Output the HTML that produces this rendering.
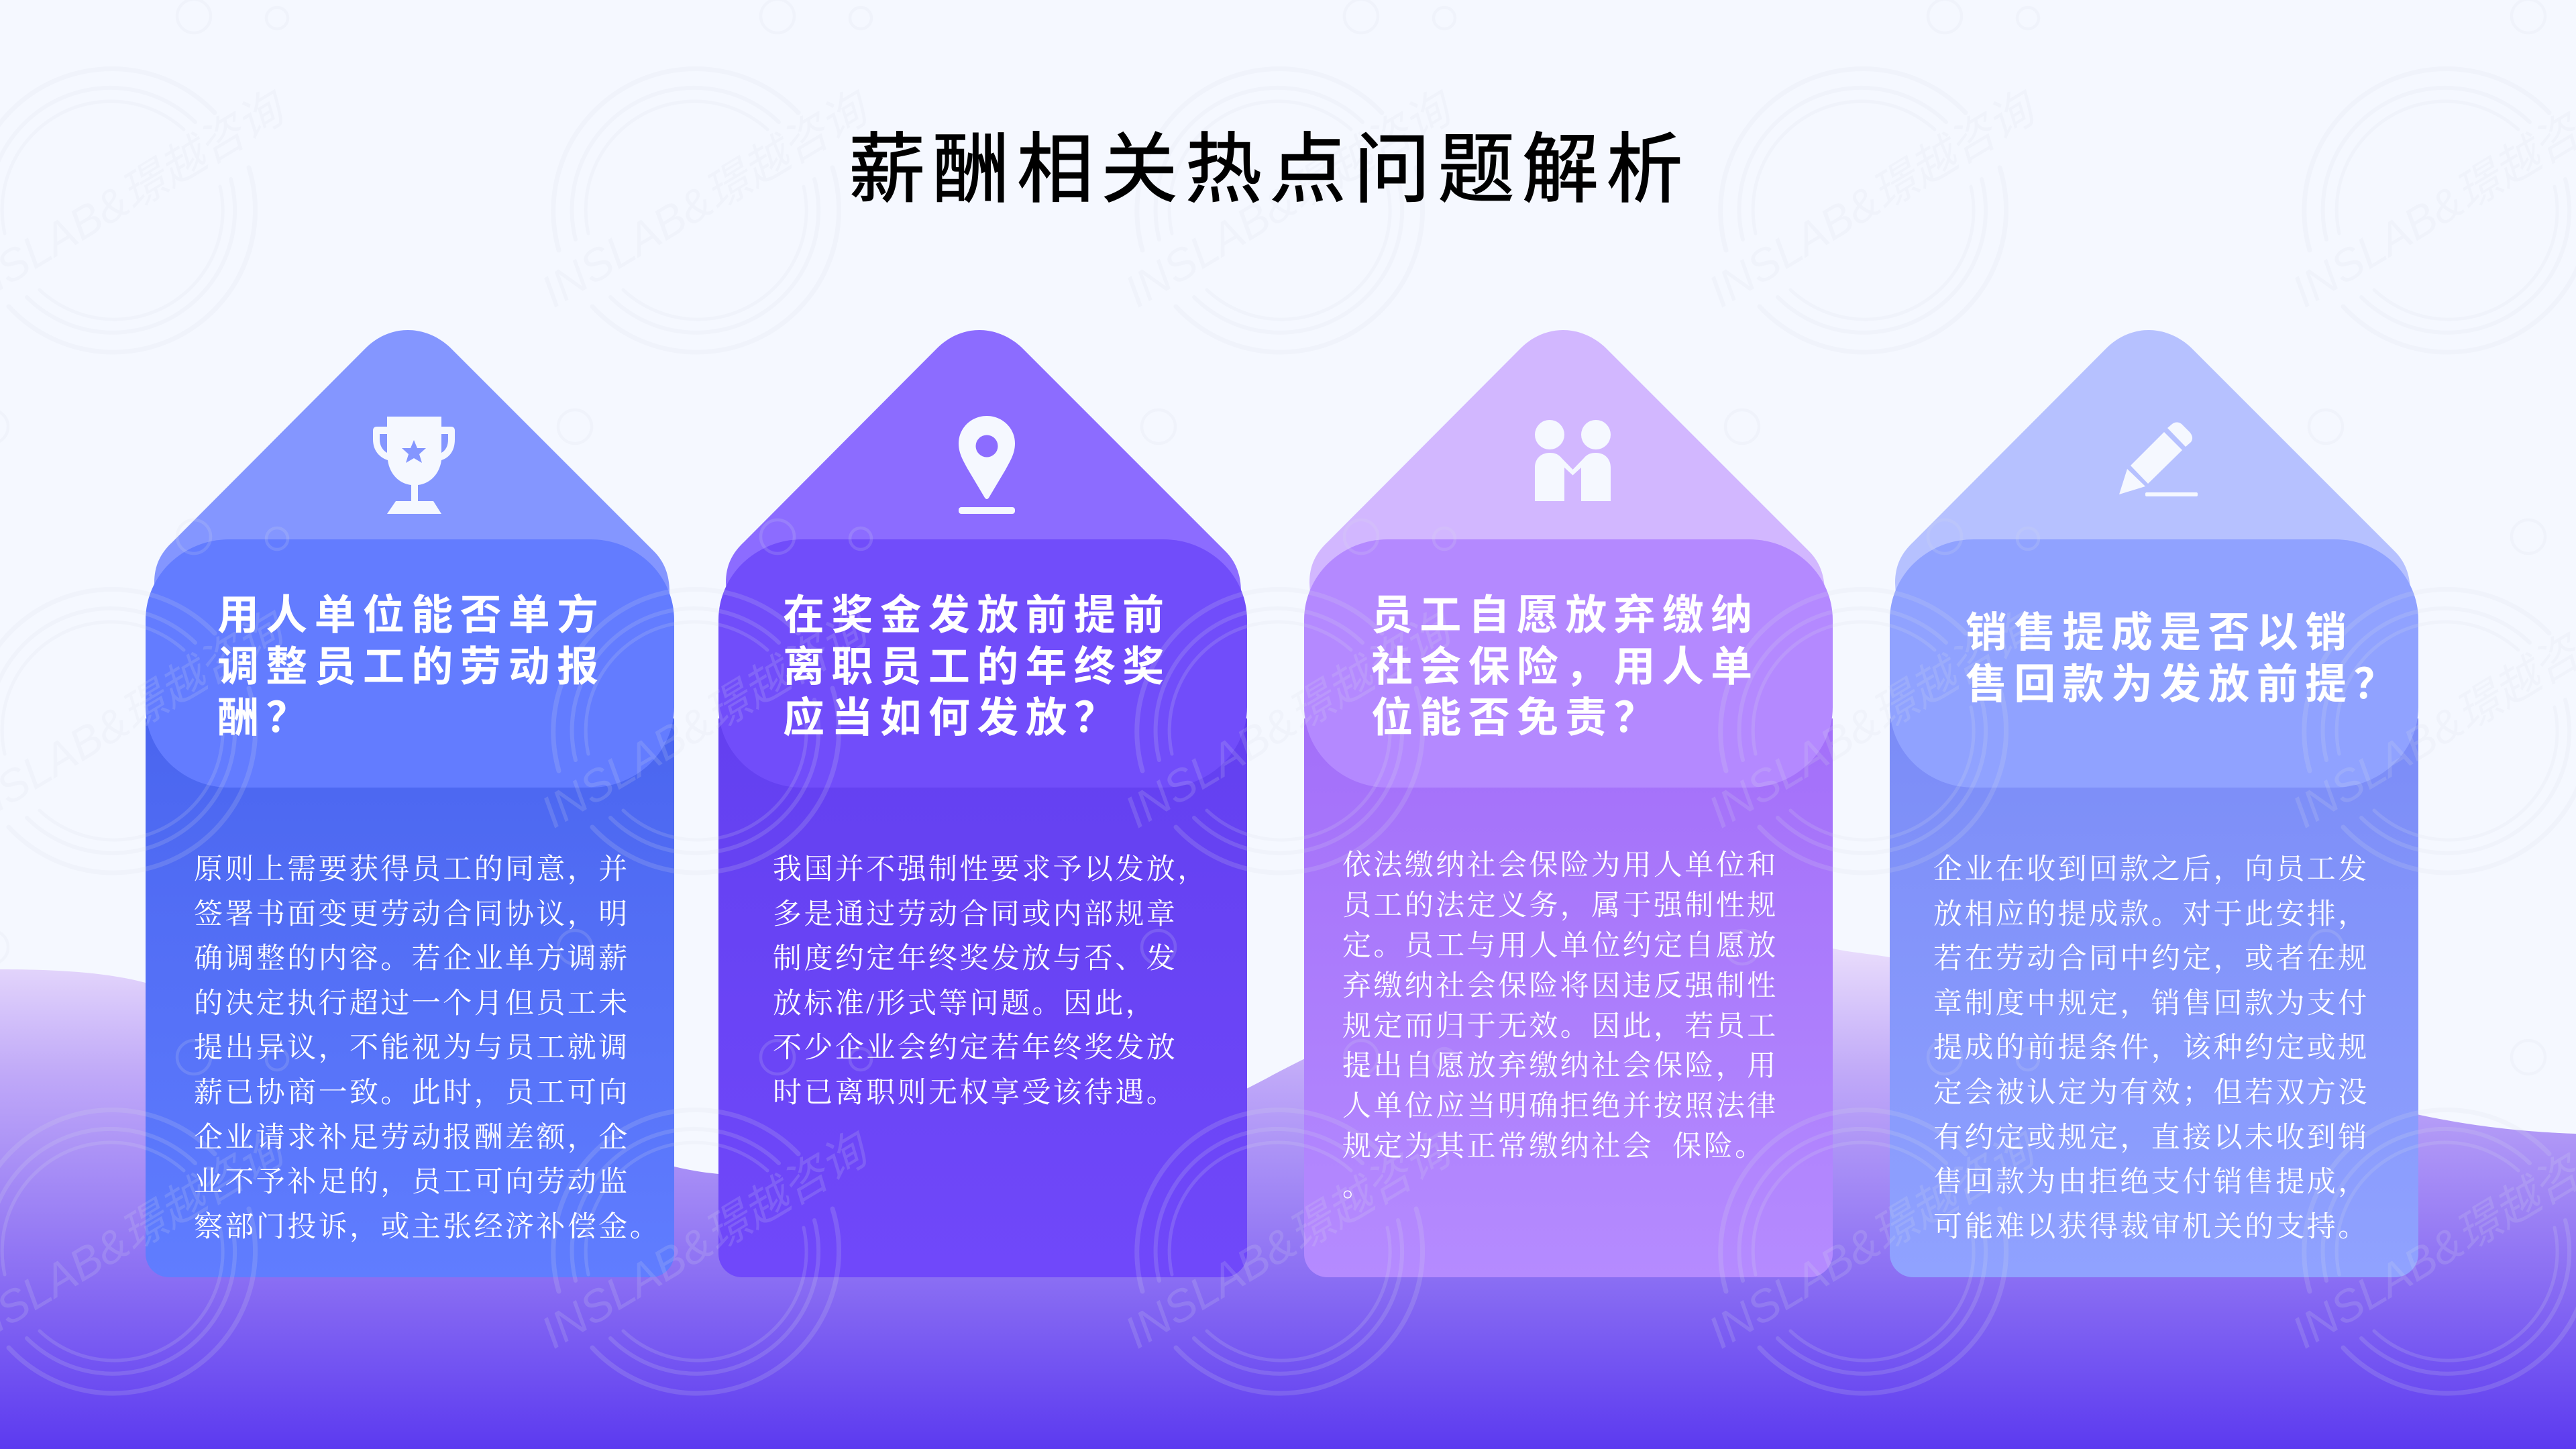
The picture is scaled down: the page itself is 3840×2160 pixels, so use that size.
<!DOCTYPE html>
<html lang="zh-CN"><head><meta charset="utf-8"><title>薪酬相关热点问题解析</title>
<style>
html,body{margin:0;padding:0;width:3840px;height:2160px;overflow:hidden;background:#f5f8ff}
svg{display:block}
.t{font-family:"Liberation Sans","Noto Sans CJK SC",sans-serif;font-size:114px;letter-spacing:11.5px;fill:#000;stroke:#000;stroke-width:1.5px}
.h{font-family:"Liberation Sans","Noto Sans CJK SC",sans-serif;font-size:62px;font-weight:700;letter-spacing:10.3px;fill:#fff}
.b{font-family:"Liberation Serif","Noto Serif CJK SC",serif;font-size:43px;letter-spacing:3.4px;fill:#fff;white-space:pre}
.w{font-family:"Liberation Sans","Noto Sans CJK SC",sans-serif;font-size:67px;font-style:italic;fill:rgba(216,219,231,.17)}
</style></head><body>
<svg xmlns="http://www.w3.org/2000/svg" width="3840" height="2160" viewBox="0 0 3840 2160">
<defs>
<linearGradient id="wave" gradientUnits="userSpaceOnUse" x1="0" y1="1400" x2="0" y2="2160">
<stop offset="0" stop-color="#ece0fc"/><stop offset=".27" stop-color="#bfa8f8"/><stop offset=".66" stop-color="#8b6ff3"/><stop offset="1" stop-color="#5c3af0"/></linearGradient>
<linearGradient id="b1" gradientUnits="userSpaceOnUse" x1="0" y1="1071" x2="0" y2="1904"><stop offset="0" stop-color="#4a65ef"/><stop offset="1" stop-color="#607dff"/></linearGradient>
<linearGradient id="b2" gradientUnits="userSpaceOnUse" x1="0" y1="1071" x2="0" y2="1904"><stop offset="0" stop-color="#6340f0"/><stop offset="1" stop-color="#7048fa"/></linearGradient>
<linearGradient id="b3" gradientUnits="userSpaceOnUse" x1="0" y1="1071" x2="0" y2="1904"><stop offset="0" stop-color="#a36ff9"/><stop offset="1" stop-color="#b58bff"/></linearGradient>
<linearGradient id="b4" gradientUnits="userSpaceOnUse" x1="0" y1="1071" x2="0" y2="1904"><stop offset="0" stop-color="#7b8cf7"/><stop offset="1" stop-color="#90a2ff"/></linearGradient>
<path id="pent" d="M-378 377C-378 350-368 332-351 316L-63 27C-45 9-22 0 0 0C22 0 45 9 63 26L367 330C382 345 390 365 390 390L388 430H-375Z"/>
<pattern id="wm" patternUnits="userSpaceOnUse" x="0" y="0" width="870" height="776" patternTransform="translate(-80,-10)">
<g transform="translate(80,10)">
<g fill="none" stroke="rgba(216,219,231,.17)" stroke-linecap="round">
<circle cx="289" cy="24" r="25" stroke-width="4.5"/><circle cx="413" cy="27" r="16" stroke-width="4.5"/><circle cx="-13" cy="636" r="25" stroke-width="4.5"/>
<g transform="translate(166,312)">
<path stroke-width="7" d="M-203 61A212 212 0 0 1 154-144M205-62A212 212 0 0 1-153 145"/>
<path stroke-width="6" d="M-178 45A182 182 0 0 1 125-130M178-45A182 182 0 0 1-126 131"/>
<path stroke-width="5" d="M-159 36A162 162 0 0 1 108-119M162-34A162 162 0 0 1-107 120"/>
</g></g>
<text class="w" transform="translate(-45,460) rotate(-31)">INSLAB&amp;璟越咨询</text>
</g></pattern>
</defs>
<rect width="3840" height="2160" fill="#f5f8ff"/>
<path fill="url(#wave)" d="M0 1445C90 1445 160 1450 217 1465C500 1540 800 1690 1005 1739C1030 1745 1050 1748 1071 1750C1300 1775 1650 1740 1900 1601C2150 1470 2400 1400 2600 1395C2650 1395 2700 1405 2732 1414C2760 1420 2790 1422 2817 1427C3100 1490 3350 1590 3607 1662C3700 1682 3780 1688 3840 1690V2160H0Z"/>

<!-- card 1 -->
<use href="#pent" transform="translate(608,492)" fill="#8496ff"/>
<path fill="url(#b1)" d="M217 1071H1005V1869A35 35 0 0 1 970 1904H252A35 35 0 0 1 217 1869Z"/>
<rect x="217" y="804" width="788" height="370" rx="125" ry="120" fill="#637cff"/>
<!-- card 2 -->
<use href="#pent" transform="translate(1460,492)" fill="#8c6cff"/>
<path fill="url(#b2)" d="M1071 1071H1859V1869A35 35 0 0 1 1824 1904H1106A35 35 0 0 1 1071 1869Z"/>
<rect x="1071" y="804" width="788" height="370" rx="125" ry="120" fill="#714dfa"/>
<!-- card 3 -->
<use href="#pent" transform="translate(2330,492)" fill="#d2b7ff"/>
<path fill="url(#b3)" d="M1944 1071H2732V1869A35 35 0 0 1 2697 1904H1979A35 35 0 0 1 1944 1869Z"/>
<rect x="1944" y="804" width="788" height="370" rx="125" ry="120" fill="#b489ff"/>
<!-- card 4 -->
<use href="#pent" transform="translate(3203,492)" fill="#b6c1ff"/>
<path fill="url(#b4)" d="M2817 1071H3605V1869A35 35 0 0 1 3570 1904H2852A35 35 0 0 1 2817 1869Z"/>
<rect x="2817" y="804" width="788" height="370" rx="125" ry="120" fill="#90a2ff"/>

<!-- icons -->
<g fill="#f5f8ff">
<path fill-rule="evenodd" d="M577 621H658V636H672Q678 636 678 642V655C678 672 670 682 658 686C655 708 640 721 623 723V747H646L658 766H577L590 747H613V723C596 721 581 708 578 686C566 682 556 672 556 655V642Q556 636 562 636H577ZM566 647V655C566 664 570 671 577 675V647ZM658 647V675C665 671 668 664 668 655V647Z"/>
<polygon fill="#8496ff" points="617,656 622,668 635,668 625,677 629,690 617,683 605,690 609,677 599,668 612,668"/>
<path fill-rule="evenodd" d="M1471 620C1448 620 1429 638 1429 661C1429 676 1436 687 1443 700L1468 742Q1471 746 1474 742L1499 700C1506 687 1513 676 1513 661C1513 638 1494 620 1471 620ZM1471 648.500A16.500 16.500 0 1 1 1471 681.500A16.500 16.500 0 1 1 1471 648.500Z"/>
<rect x="1429" y="756" width="84" height="10" rx="4"/>
<circle cx="2310" cy="648" r="22"/><circle cx="2379" cy="648" r="22"/>
<path d="M2288 747V697C2288 683 2298 675 2310 675C2318 675 2323 677 2328 683L2344.500 700L2361 683C2366 677 2371 675 2379 675C2391 675 2401 683 2401 697V747H2357V697L2344.500 708.500L2332 697V747Z"/>
<path d="M3231 638L3238 632Q3245 627 3252 632L3264 644Q3271 652 3266 659L3258 666Z"/>
<polygon points="3226,644 3253,671 3202,721 3176,694"/>
<polygon points="3171,699 3198,725 3159,737"/>
<rect x="3198" y="734" width="78" height="6" rx="2"/>
</g>

<rect width="3840" height="2160" fill="url(#wm)"/>

<text class="t" x="1265" y="292">薪酬相关热点问题解析</text>

<text class="h" x="324" y="938">用人单位能否单方</text>
<text class="h" x="324" y="1015">调整员工的劳动报</text>
<text class="h" x="324" y="1091">酬？</text>
<text class="h" x="1167" y="938">在奖金发放前提前</text>
<text class="h" x="1167" y="1015">离职员工的年终奖</text>
<text class="h" x="1167" y="1091">应当如何发放？</text>
<text class="h" x="2044" y="938">员工自愿放弃缴纳</text>
<text class="h" x="2044" y="1015">社会保险，用人单</text>
<text class="h" x="2044" y="1091">位能否免责？</text>
<text class="h" x="2930" y="964">销售提成是否以销</text>
<text class="h" x="2930" y="1041">售回款为发放前提？</text>

<g class="b">
<text class="b" x="289" y="1310">原则上需要获得员工的同意，并</text>
<text class="b" x="289" y="1377">签署书面变更劳动合同协议，明</text>
<text class="b" x="289" y="1443">确调整的内容。若企业单方调薪</text>
<text class="b" x="289" y="1510">的决定执行超过一个月但员工未</text>
<text class="b" x="289" y="1576">提出异议，不能视为与员工就调</text>
<text class="b" x="289" y="1643">薪已协商一致。此时，员工可向</text>
<text class="b" x="289" y="1710">企业请求补足劳动报酬差额，企</text>
<text class="b" x="289" y="1776">业不予补足的，员工可向劳动监</text>
<text class="b" x="289" y="1843">察部门投诉，或主张经济补偿金。</text>

<text class="b" x="1152" y="1310">我国并不强制性要求予以发放，</text>
<text class="b" x="1152" y="1377">多是通过劳动合同或内部规章</text>
<text class="b" x="1152" y="1443">制度约定年终奖发放与否、发</text>
<text class="b" x="1152" y="1510">放标准/形式等问题。因此，</text>
<text class="b" x="1152" y="1576">不少企业会约定若年终奖发放</text>
<text class="b" x="1152" y="1643">时已离职则无权享受该待遇。</text>

<text class="b" x="2001" y="1304">依法缴纳社会保险为用人单位和</text>
<text class="b" x="2001" y="1364">员工的法定义务，属于强制性规</text>
<text class="b" x="2001" y="1424">定。员工与用人单位约定自愿放</text>
<text class="b" x="2001" y="1484">弃缴纳社会保险将因违反强制性</text>
<text class="b" x="2001" y="1544">规定而归于无效。因此，若员工</text>
<text class="b" x="2001" y="1603">提出自愿放弃缴纳社会保险，用</text>
<text class="b" x="2001" y="1663">人单位应当明确拒绝并按照法律</text>
<text class="b" x="2001" y="1723">规定为其正常缴纳社会  保险。</text>
<text class="b" x="2001" y="1783">。</text>

<text class="b" x="2882" y="1310">企业在收到回款之后，向员工发</text>
<text class="b" x="2882" y="1377">放相应的提成款。对于此安排，</text>
<text class="b" x="2882" y="1443">若在劳动合同中约定，或者在规</text>
<text class="b" x="2882" y="1510">章制度中规定，销售回款为支付</text>
<text class="b" x="2882" y="1576">提成的前提条件，该种约定或规</text>
<text class="b" x="2882" y="1643">定会被认定为有效；但若双方没</text>
<text class="b" x="2882" y="1710">有约定或规定，直接以未收到销</text>
<text class="b" x="2882" y="1776">售回款为由拒绝支付销售提成，</text>
<text class="b" x="2882" y="1843">可能难以获得裁审机关的支持。</text>
</g>
</svg>
</body></html>
